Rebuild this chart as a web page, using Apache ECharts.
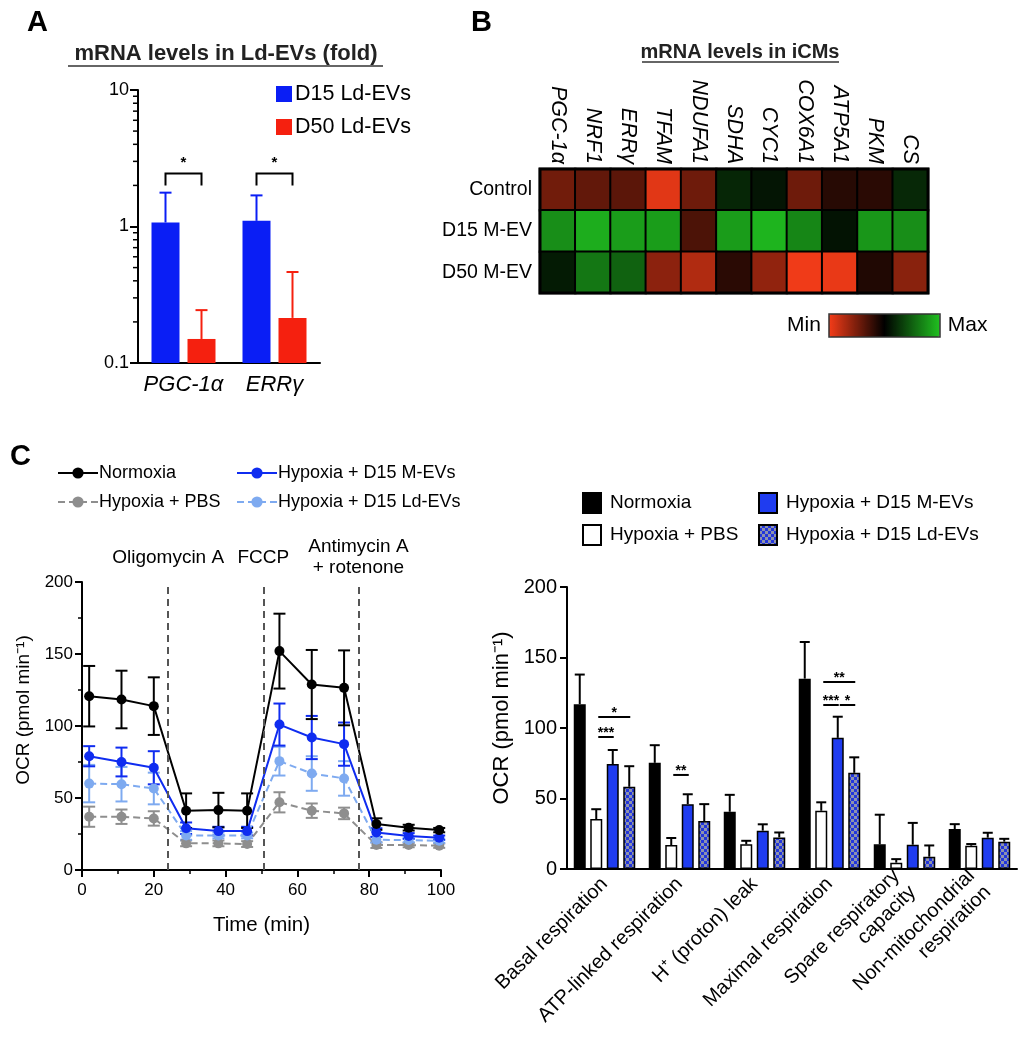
<!DOCTYPE html>
<html>
<head>
<meta charset="utf-8">
<script src="https://cdn.jsdelivr.net/npm/echarts@6/dist/echarts.min.js"></script>
<style>
  html, body { margin: 0; padding: 0; background: #fff; }
  #wrap { position: relative; width: 1025px; height: 1050px; overflow: hidden; }
  .panel { position: absolute; }
</style>
</head>
<body>
<div id="wrap">
  <div id="pA" class="panel" style="left:0;top:0;width:430px;height:420px;"></div>
  <div id="pB" class="panel" style="left:430px;top:0;width:595px;height:420px;"></div>
  <div id="pC1" class="panel" style="left:0;top:420px;width:470px;height:630px;"></div>
  <div id="pC2" class="panel" style="left:470px;top:420px;width:555px;height:630px;"></div>
</div>
<script>
// ---------------- DATA ----------------
// Panel A
const genesA = ['PGC-1α', 'ERRγ'];
const d15Ld = [1.07, 1.10];
const d15LdErr = [0.70, 0.59];
const d50Ld = [0.150, 0.214];
const d50LdErr = [0.094, 0.250];
const sigABracket = [2.44, 2.44];
const sigAText = ['*', '*'];

// Panel B
const genesB = ['PGC-1α', 'NRF1', 'ERRγ', 'TFAM', 'NDUFA1', 'SDHA', 'CYC1', 'COX6A1', 'ATP5A1', 'PKM', 'CS'];
const groupsB = ['Control', 'D15 M-EV', 'D50 M-EV'];
const heatControl = [-0.46, -0.40, -0.37, -0.92, -0.45, 0.20, 0.11, -0.45, -0.16, -0.17, 0.21];
const heatD15 = [0.74, 0.90, 0.82, 0.82, -0.31, 0.81, 0.94, 0.70, 0.10, 0.78, 0.74];
const heatD50 = [0.14, 0.62, 0.51, -0.57, -0.72, -0.17, -0.59, -0.98, -0.95, -0.13, -0.56];

// Panel C left (OCR time course)
const timesC = [2, 11, 20, 29, 38, 46, 55, 64, 73, 82, 91, 99.5];
const normoxiaOCR = [120.7, 118.4, 113.8, 41.2, 41.6, 41.2, 152, 128.8, 126.5, 31.9, 29.4, 27.7];
const normoxiaErr = [21, 20, 20, 12, 12, 12, 26, 24, 26, 4, 2, 1.5];
const pbsOCR = [37, 37, 35.8, 18.5, 18.5, 18, 47, 41.2, 39.3, 17.3, 17.3, 16.9];
const pbsErr = [7, 5, 5, 2, 2, 2, 7, 5, 4, 2, 1.5, 1.5];
const mevOCR = [79, 75, 71, 29, 27, 27, 101, 92, 87.4, 26, 23.6, 22.4];
const mevErr = [7, 10, 11.5, 4, 3, 3, 14.6, 15, 15, 3, 2, 1.5];
const ldevOCR = [60, 59.6, 56.6, 24, 24, 24, 75.6, 67, 63.6, 21, 20.8, 20.3];
const ldevErr = [13, 12, 11, 3, 2, 2, 10, 12, 12, 2, 1.5, 1.5];
const injectTimes = [24, 50.5, 77];
const injectNames = ['Oligomycin A', 'FCCP', 'Antimycin A\n+ rotenone'];

// Panel C right (bar summary)
const paramsC = ['Basal respiration', 'ATP-linked respiration', 'H⁺ (proton) leak', 'Maximal respiration', 'Spare respiratory\ncapacity', 'Non-mitochondrial\nrespiration'];
const normoxiaBar = [116.9, 75.3, 40.6, 135, 17.5, 28.3];
const normoxiaBarErr = [21, 12.5, 12, 26, 21, 3.5];
const pbsBar = [35.4, 17, 17.5, 41.3, 4.5, 16.5];
const pbsBarErr = [7, 5, 2.5, 6, 2.5, 1.2];
const mevBar = [74.4, 46, 27.2, 93, 17.2, 22.2];
const mevBarErr = [10, 7, 4.5, 15, 15.5, 3.5];
const ldevBar = [58.3, 34, 22.4, 68.2, 8.7, 19.4];
const ldevBarErr = [14.6, 12, 3.5, 11, 8, 2];
// significance: category, from bar index, to bar index, y level, text
const sigCat = [0, 0, 1, 3, 3, 3];
const sigFrom = [1, 1, 1, 1, 1, 2];
const sigTo = [3, 2, 2, 3, 2, 3];
const sigY = [107.8, 93.6, 66.7, 132.6, 116.3, 116.3];
const sigText = ['*', '***', '**', '**', '***', '*'];

// ---------------- STYLE ----------------
const FONT = "'Liberation Sans', Arial, Helvetica, sans-serif";
const BLUE = '#0a1ef5';
const RED = '#f5200f';

function panelLabel(txt, x, y) {
  return { type: 'text', left: x, top: y, style: { text: txt, font: 'bold 29px ' + FONT, fill: '#000' } };
}
function ulTitle(txt, size, cx, cy, x1, x2, uy) {
  return [
    { type: 'text', x: cx, y: cy, style: { text: txt, font: 'bold ' + size + 'px ' + FONT, fill: '#222', align: 'center', verticalAlign: 'middle' } },
    { type: 'line', shape: { x1: x1, y1: uy, x2: x2, y2: uy }, style: { stroke: '#333', lineWidth: 1.5 } }
  ];
}

// ---------------- PANEL A ----------------
(function () {
  const chart = echarts.init(document.getElementById('pA'));
  const W = 28, GAP = 8;
  const offs = [-(W + GAP) / 2, (W + GAP) / 2];
  function barRender(offset, color) {
    return function (params, api) {
      const cat = api.value(0), v = api.value(1), e = api.value(2);
      const p = api.coord([cat, v]);
      const b = api.coord([cat, 0.1]);
      const pe = api.coord([cat, v + e]);
      const x = p[0] + offset;
      return { type: 'group', children: [
        { type: 'rect', shape: { x: x - W / 2, y: p[1], width: W, height: b[1] - p[1] }, style: { fill: color } },
        { type: 'line', shape: { x1: x, y1: p[1], x2: x, y2: pe[1] }, style: { stroke: color, lineWidth: 2 } },
        { type: 'line', shape: { x1: x - 6, y1: pe[1], x2: x + 6, y2: pe[1] }, style: { stroke: color, lineWidth: 2 } }
      ]};
    };
  }
  const minorVals = [];
  [0.1, 1].forEach(d => { for (let k = 2; k <= 9; k++) minorVals.push([0, +(d * k).toFixed(2)]); });
  chart.setOption({
    animation: false,
    textStyle: { fontFamily: FONT },
    graphic: [panelLabel('A', 27, 8)].concat(ulTitle('mRNA levels in Ld-EVs (fold)', 22, 226, 54, 68, 383, 66)),
    legend: {
      data: ['D15 Ld-EVs', 'D50 Ld-EVs'], orient: 'vertical', left: 276, top: 83, padding: 0,
      itemWidth: 16, itemHeight: 16, itemGap: 11, icon: 'rect',
      textStyle: { fontSize: 21.5, color: '#000', fontFamily: FONT, padding: [0, 0, 0, -2] }
    },
    grid: { left: 138, top: 90, width: 182, height: 273 },
    xAxis: {
      type: 'category', data: genesA,
      axisLine: { lineStyle: { color: '#000', width: 2 } },
      axisTick: { alignWithLabel: true, length: 6, lineStyle: { color: '#000', width: 2 } },
      axisLabel: { fontSize: 22, fontStyle: 'italic', color: '#000', margin: 11, interval: 0, hideOverlap: false }
    },
    yAxis: {
      type: 'log', logBase: 10, min: 0.1, max: 10,
      axisLine: { show: true, lineStyle: { color: '#000', width: 2 } },
      axisTick: { show: true, length: 8, lineStyle: { color: '#000', width: 2 } },
      axisLabel: { fontSize: 18, color: '#000', margin: 9, formatter: v => (v < 1 ? '0.1' : String(Math.round(v))) },
      splitLine: { show: false }
    },
    series: [
      { name: 'D15 Ld-EVs', type: 'custom', itemStyle: { color: BLUE }, encode: { x: 0, y: 1 },
        data: d15Ld.map((v, i) => [i, v, d15LdErr[i]]), renderItem: barRender(offs[0], BLUE) },
      { name: 'D50 Ld-EVs', type: 'custom', itemStyle: { color: RED }, encode: { x: 0, y: 1 },
        data: d50Ld.map((v, i) => [i, v, d50LdErr[i]]), renderItem: barRender(offs[1], RED) },
      { name: 'minorTicks', type: 'custom', encode: { x: 0, y: 1 }, silent: true, data: minorVals,
        renderItem: function (params, api) {
          const p = api.coord([0, api.value(1)]);
          const bw = api.size([1, 0])[0];
          const x0 = p[0] - bw / 2;
          return { type: 'line', shape: { x1: x0 - 5, y1: p[1], x2: x0, y2: p[1] }, style: { stroke: '#000', lineWidth: 1.5 } };
        } },
      { name: 'sig', type: 'custom', encode: { x: 0, y: 1 }, silent: true,
        data: sigABracket.map((v, i) => [i, v]),
        renderItem: function (params, api) {
          const p = api.coord([api.value(0), api.value(1)]);
          const xa = p[0] + offs[0], xb = p[0] + offs[1];
          return { type: 'group', children: [
            { type: 'polyline', shape: { points: [[xa, p[1] + 12], [xa, p[1]], [xb, p[1]], [xb, p[1] + 12]] }, style: { stroke: '#000', lineWidth: 2, fill: null } },
            { type: 'text', x: p[0], y: p[1] - 3, style: { text: sigAText[params.dataIndex], font: 'bold 15px ' + FONT, fill: '#000', align: 'center', verticalAlign: 'bottom' } }
          ]};
        } }
    ]
  });
})();

// ---------------- PANEL B ----------------
(function () {
  const chart = echarts.init(document.getElementById('pB'));
  const rows = [heatControl, heatD15, heatD50];
  const data = [];
  rows.forEach((r, yi) => r.forEach((v, xi) => data.push([xi, yi, v])));
  chart.setOption({
    animation: false,
    textStyle: { fontFamily: FONT },
    graphic: [panelLabel('B', 41, 8)].concat(ulTitle('mRNA levels in iCMs', 20, 310, 52, 212, 409, 62)).concat([
      { type: 'rect', shape: { x: 110, y: 169, width: 388, height: 124 }, style: { stroke: '#000', lineWidth: 3, fill: null }, z: 100 },
      { type: 'rect', shape: { x: 399, y: 314, width: 111, height: 23 }, style: { stroke: '#333', lineWidth: 1.5, fill: null }, z: 100 }
    ]),
    grid: { left: 110, top: 169, width: 388, height: 124 },
    xAxis: {
      type: 'category', data: genesB, position: 'top',
      axisLine: { show: false }, axisTick: { show: false }, splitLine: { show: false },
      axisLabel: { rotate: 90, fontSize: 21.5, fontStyle: 'italic', color: '#000', margin: 5, interval: 0 }
    },
    yAxis: {
      type: 'category', data: groupsB, inverse: true,
      axisLine: { show: false }, axisTick: { show: false }, splitLine: { show: false },
      axisLabel: { fontSize: 19.5, color: '#000', margin: 8 }
    },
    visualMap: {
      type: 'continuous', min: -1, max: 1, calculable: false, orient: 'horizontal',
      left: 357, top: 314, itemWidth: 23, itemHeight: 111, padding: 0, textGap: 8,
      text: ['Max', 'Min'], textStyle: { fontSize: 21, color: '#000', fontFamily: FONT },
      inRange: { color: ['#f53c18', '#000000', '#20c020'] }
    },
    series: [{
      type: 'heatmap', data: data,
      itemStyle: { borderColor: '#000', borderWidth: 2 }
    }]
  });
})();

// ---------------- PANEL C LEFT ----------------
(function () {
  const chart = echarts.init(document.getElementById('pC1'));
  function errSeries(name, vals, errs, color) {
    return {
      name: name + ' err', type: 'custom', encode: { x: 0, y: 1 }, silent: true, z: 3,
      data: vals.map((v, i) => [timesC[i], v, errs[i]]),
      renderItem: function (params, api) {
        const t = api.value(0), v = api.value(1), e = api.value(2);
        const hi = api.coord([t, v + e]), lo = api.coord([t, v - e]);
        return { type: 'group', children: [
          { type: 'line', shape: { x1: hi[0], y1: hi[1], x2: lo[0], y2: lo[1] }, style: { stroke: color, lineWidth: 2 } },
          { type: 'line', shape: { x1: hi[0] - 6, y1: hi[1], x2: hi[0] + 6, y2: hi[1] }, style: { stroke: color, lineWidth: 2 } },
          { type: 'line', shape: { x1: lo[0] - 6, y1: lo[1], x2: lo[0] + 6, y2: lo[1] }, style: { stroke: color, lineWidth: 2 } }
        ]};
      }
    };
  }
  function lineSeries(name, vals, color, dashed, extra) {
    return Object.assign({
      name: name, type: 'line', data: vals.map((v, i) => [timesC[i], v]),
      symbol: 'circle', symbolSize: 10, z: 4,
      itemStyle: { color: color },
      lineStyle: { color: color, width: 2, type: dashed ? [7, 4] : 'solid' }
    }, extra || {});
  }
  const legendCommon = {
    orient: 'vertical', top: 44, padding: 0, itemWidth: 40, itemHeight: 14, itemGap: 11,
    textStyle: { fontSize: 18, color: '#000', fontFamily: FONT, padding: [0, 0, 0, -4] }
  };
  chart.setOption({
    animation: false,
    textStyle: { fontFamily: FONT },
    graphic: [panelLabel('C', 10, 22)],
    legend: [
      Object.assign({}, legendCommon, { left: 57, data: ['Normoxia', 'Hypoxia + PBS'] }),
      Object.assign({}, legendCommon, { left: 236, data: ['Hypoxia + D15 M-EVs', 'Hypoxia + D15 Ld-EVs'] })
    ],
    grid: { left: 82, top: 162, width: 359, height: 288 },
    xAxis: {
      type: 'value', min: 0, max: 100, interval: 20,
      name: 'Time (min)', nameLocation: 'middle', nameGap: 45,
      nameTextStyle: { fontSize: 20.5, color: '#000' },
      axisLine: { lineStyle: { color: '#000', width: 2 } },
      axisTick: { length: 7, lineStyle: { color: '#000', width: 2 } },
      minorTick: { show: true, splitNumber: 2, length: 4, lineStyle: { color: '#000', width: 1.5 } },
      axisLabel: { fontSize: 17, color: '#000', margin: 12 },
      splitLine: { show: false }
    },
    yAxis: {
      type: 'value', min: 0, max: 200, interval: 50,
      name: 'OCR (pmol min⁻¹)', nameLocation: 'middle', nameGap: 48,
      nameTextStyle: { fontSize: 19, color: '#000', padding: [0, 0, 0, 32] },
      axisLine: { show: true, lineStyle: { color: '#000', width: 2 } },
      axisTick: { show: true, length: 7, lineStyle: { color: '#000', width: 2 } },
      minorTick: { show: true, splitNumber: 2, length: 4, lineStyle: { color: '#000', width: 1.5 } },
      axisLabel: { fontSize: 17, color: '#000', margin: 9 },
      splitLine: { show: false }
    },
    series: [
      lineSeries('Hypoxia + PBS', pbsOCR, '#8e8e8e', true, {
        markLine: {
          silent: true, symbol: 'none',
          lineStyle: { color: '#555', width: 2, type: [7, 5] },
          label: { show: true, position: 'end', fontSize: 19, color: '#000', lineHeight: 21, distance: 13,
                   formatter: p => injectNames[p.dataIndex] },
          data: injectTimes.map((t, i) => ({ xAxis: t, label: { distance: injectNames[i].indexOf('\n') >= 0 ? 4 : 14 } }))
        }
      }),
      errSeries('Hypoxia + PBS', pbsOCR, pbsErr, '#8e8e8e'),
      lineSeries('Hypoxia + D15 Ld-EVs', ldevOCR, '#7eaaf0', true),
      errSeries('Hypoxia + D15 Ld-EVs', ldevOCR, ldevErr, '#7eaaf0'),
      lineSeries('Hypoxia + D15 M-EVs', mevOCR, '#0f2cf0', false),
      errSeries('Hypoxia + D15 M-EVs', mevOCR, mevErr, '#0f2cf0'),
      lineSeries('Normoxia', normoxiaOCR, '#000000', false),
      errSeries('Normoxia', normoxiaOCR, normoxiaErr, '#000000')
    ]
  });
})();

// ---------------- PANEL C RIGHT ----------------
(function () {
  const chart = echarts.init(document.getElementById('pC2'));
  // checker pattern for Ld-EV bars
  const cv = document.createElement('canvas');
  cv.width = 6; cv.height = 6;
  const cx = cv.getContext('2d');
  cx.fillStyle = '#2236dc'; cx.fillRect(0, 0, 6, 6);
  cx.fillStyle = '#8d92ad'; cx.fillRect(0, 0, 3, 3); cx.fillRect(3, 3, 3, 3);
  const checker = { image: cv, repeat: 'repeat' };

  const BW = 12, BG = 4.5;
  const total = 4 * BW + 3 * BG;
  const off = i => -total / 2 + i * (BW + BG) + BW / 2;

  function errSeries(idx, vals, errs) {
    return {
      name: 'err' + idx, type: 'custom', encode: { x: 0, y: 1 }, silent: true, z: 5,
      data: vals.map((v, i) => [i, v, errs[i]]),
      renderItem: function (params, api) {
        const c = api.coord([api.value(0), api.value(1)]);
        const h = api.coord([api.value(0), api.value(1) + api.value(2)]);
        const x = c[0] + off(idx);
        return { type: 'group', children: [
          { type: 'line', shape: { x1: x, y1: c[1], x2: x, y2: h[1] }, style: { stroke: '#000', lineWidth: 2 } },
          { type: 'line', shape: { x1: x - 5, y1: h[1], x2: x + 5, y2: h[1] }, style: { stroke: '#000', lineWidth: 2 } }
        ]};
      }
    };
  }
  function barSeries(name, vals, color) {
    return {
      name: name, type: 'bar', data: vals, barWidth: BW, barGap: (BG / BW * 100) + '%',
      itemStyle: { color: color, borderColor: '#000', borderWidth: 1.5 }
    };
  }
  const legendCommon = {
    orient: 'vertical', top: 72, padding: 0, itemWidth: 18, itemHeight: 20, itemGap: 10, icon: 'rect',
    textStyle: { fontSize: 19, color: '#000', fontFamily: FONT, padding: [0, 0, 0, 4] }
  };
  chart.setOption({
    animation: false,
    textStyle: { fontFamily: FONT },
    legend: [
      Object.assign({}, legendCommon, { left: 112, data: ['Normoxia', 'Hypoxia + PBS'] }),
      Object.assign({}, legendCommon, { left: 288, data: ['Hypoxia + D15 M-EVs', 'Hypoxia + D15 Ld-EVs'] })
    ],
    grid: { left: 97, top: 167, width: 450, height: 282 },
    xAxis: {
      type: 'category', data: paramsC,
      axisLine: { lineStyle: { color: '#000', width: 2 } },
      axisTick: { alignWithLabel: true, length: 6, lineStyle: { color: '#000', width: 2 } },
      axisLabel: { rotate: 45, interval: 0, fontSize: 20, color: '#000', margin: 12, lineHeight: 23 }
    },
    yAxis: {
      type: 'value', min: 0, max: 200, interval: 50,
      name: 'OCR (pmol min⁻¹)', nameLocation: 'middle', nameGap: 52,
      nameTextStyle: { fontSize: 22, color: '#000', padding: [0, 0, 0, 20] },
      axisLine: { show: true, lineStyle: { color: '#000', width: 2 } },
      axisTick: { show: true, length: 7, lineStyle: { color: '#000', width: 2 } },
      axisLabel: { fontSize: 20, color: '#000', margin: 10 },
      splitLine: { show: false }
    },
    series: [
      barSeries('Normoxia', normoxiaBar, '#000000'),
      barSeries('Hypoxia + PBS', pbsBar, '#ffffff'),
      barSeries('Hypoxia + D15 M-EVs', mevBar, '#1f3cf0'),
      barSeries('Hypoxia + D15 Ld-EVs', ldevBar, checker),
      errSeries(0, normoxiaBar, normoxiaBarErr),
      errSeries(1, pbsBar, pbsBarErr),
      errSeries(2, mevBar, mevBarErr),
      errSeries(3, ldevBar, ldevBarErr),
      {
        name: 'sig', type: 'custom', encode: { x: 0, y: 1 }, silent: true, z: 6,
        data: sigCat.map((c, i) => [c, sigY[i]]),
        renderItem: function (params, api) {
          const i = params.dataIndex;
          const p = api.coord([api.value(0), api.value(1)]);
          const xa = p[0] + off(sigFrom[i]) + 2, xb = p[0] + off(sigTo[i]) + 1;
          return { type: 'group', children: [
            { type: 'line', shape: { x1: xa, y1: p[1], x2: xb, y2: p[1] }, style: { stroke: '#000', lineWidth: 2 } },
            { type: 'text', x: (xa + xb) / 2, y: p[1] + 3, style: { text: sigText[i], font: 'bold 14px ' + FONT, fill: '#000', align: 'center', verticalAlign: 'bottom' } }
          ]};
        }
      }
    ]
  });
})();
</script>
</body>
</html>
